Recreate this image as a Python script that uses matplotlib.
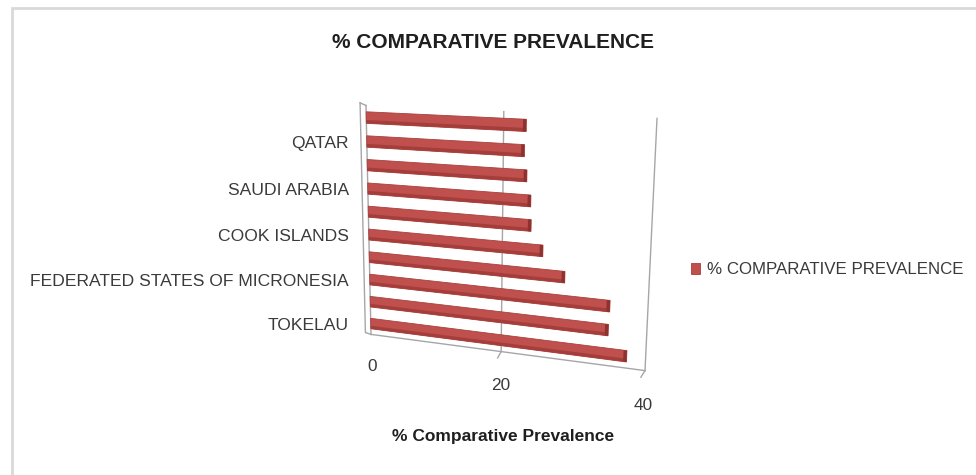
import numpy as np
import matplotlib
matplotlib.use("Agg")
import matplotlib.pyplot as plt
import matplotlib.transforms as mtransforms

plt.rcParams['font.family'] = ['Liberation Sans', 'DejaVu Sans']

# data, listed from the bottom bar up
countries = ['TOKELAU', 'MARSHALL ISLANDS', 'FEDERATED STATES OF MICRONESIA', 'KIRIBATI',
             'COOK ISLANDS', 'VANUATU', 'SAUDI ARABIA', 'NAURU', 'QATAR', 'KUWAIT']
prevalence = [37.5, 34.9, 35.0, 28.8, 25.7, 24.0, 23.9, 23.3, 22.9, 23.1]
x_ticks = [0, 20, 40]
series_name = '% COMPARATIVE PREVALENCE'

red = '#C0504D'
grey_text = '#3A3A3A'


def homography(src, dst):
    A, b = [], []
    for (x, y), (u, v) in zip(src, dst):
        A.append([x, y, 1, 0, 0, 0, -u * x, -u * y])
        b.append(u)
        A.append([0, 0, 0, x, y, 1, -v * x, -v * y])
        b.append(v)
    h = np.linalg.solve(np.array(A, float), np.array(b, float))
    return np.append(h, 1.0).reshape(3, 3)


class Perspective(mtransforms.Transform):
    # (value, category) -> pixel position on the tilted plot wall
    input_dims = 2
    output_dims = 2
    is_separable = False

    def __init__(self, H):
        super().__init__()
        self.H = H

    def transform_non_affine(self, xy):
        xy = np.asarray(xy, float).reshape(-1, 2)
        p = np.column_stack([xy, np.ones(len(xy))]) @ self.H.T
        return p[:, :2] / p[:, 2:]


W, Hpx = 976, 475
fig = plt.figure(figsize=(W / 100, Hpx / 100), dpi=100)
ax = fig.add_axes([0, 0, 1, 1])
ax.set_xlim(0, W)
ax.set_ylim(Hpx, 0)
ax.axis('off')
ax.autoscale(False)

n = len(countries)
vmax = 40
wall = homography([(0, n), (vmax, n), (0, 0), (vmax, 0)],
                  [(366, 105.5), (657, 118.4), (371, 334.4), (645, 370.6)])
P = Perspective(wall)
T = P + ax.transData

# outer frame
ax.plot([12, 12, W], [Hpx, 8, 8], color='#D9D9D9', lw=2, solid_joinstyle='miter')

# back wall: gridlines, side edge and floor
wall_col = '#A6A6A6'
for v in x_ticks:
    ax.plot([v, v], [0, n], color=wall_col, lw=1, transform=T)
ax.plot([-0.9, -0.9, 0], [n + 0.1, 0.05, 0], color=wall_col, lw=1, transform=T)
ax.plot([-0.9, 0], [n + 0.1, n], color=wall_col, lw=1, transform=T)
ax.plot([0, vmax], [0, 0], color=wall_col, lw=1, transform=T)
for v in x_ticks[1:]:
    ax.plot([v, v - 0.5], [0, -0.3], color=wall_col, lw=1, transform=T)

# bars
pos = np.arange(n) + 0.5
vals = np.array(prevalence)
bars = ax.barh(pos, vals, height=0.48, color=red, edgecolor='#A8403D', linewidth=0.6,
               transform=T, label=series_name, zorder=3)
ax.barh(pos - 0.17, vals, height=0.14, color='#A53E3B', linewidth=0, transform=T, zorder=3)
ax.barh(pos, np.full(n, 0.45), left=vals - 0.45, height=0.48, color='#8E3230',
        linewidth=0, transform=T, zorder=3)

# category labels, every other one
for i in range(0, n, 2):
    _, y = P.transform((0, pos[i]))
    ax.text(349, y + 2, countries[i], ha='right', va='center', fontsize=12.6,
            color=grey_text)

# value axis labels
for v in x_ticks:
    ax.text(v, -1.5, str(v), ha='center', va='center', fontsize=12.4, color=grey_text,
            transform=T)

ax.text(503, 437, '% Comparative Prevalence', ha='center', va='center', fontsize=12.5,
        fontweight='bold', color='#1F1F1F')
ax.text(493, 43, '% COMPARATIVE PREVALENCE', ha='center', va='center', fontsize=15,
        fontweight='bold', color='#1F1F1F')

fig.legend(handles=[bars], loc='center left', bbox_to_anchor=(691 / W, 1 - 270 / Hpx),
           frameon=False, fontsize=12.2, handlelength=0.55, handleheight=0.55,
           handletextpad=0.4, borderpad=0, borderaxespad=0, labelcolor=grey_text)

fig.savefig('out.png', dpi=100)
